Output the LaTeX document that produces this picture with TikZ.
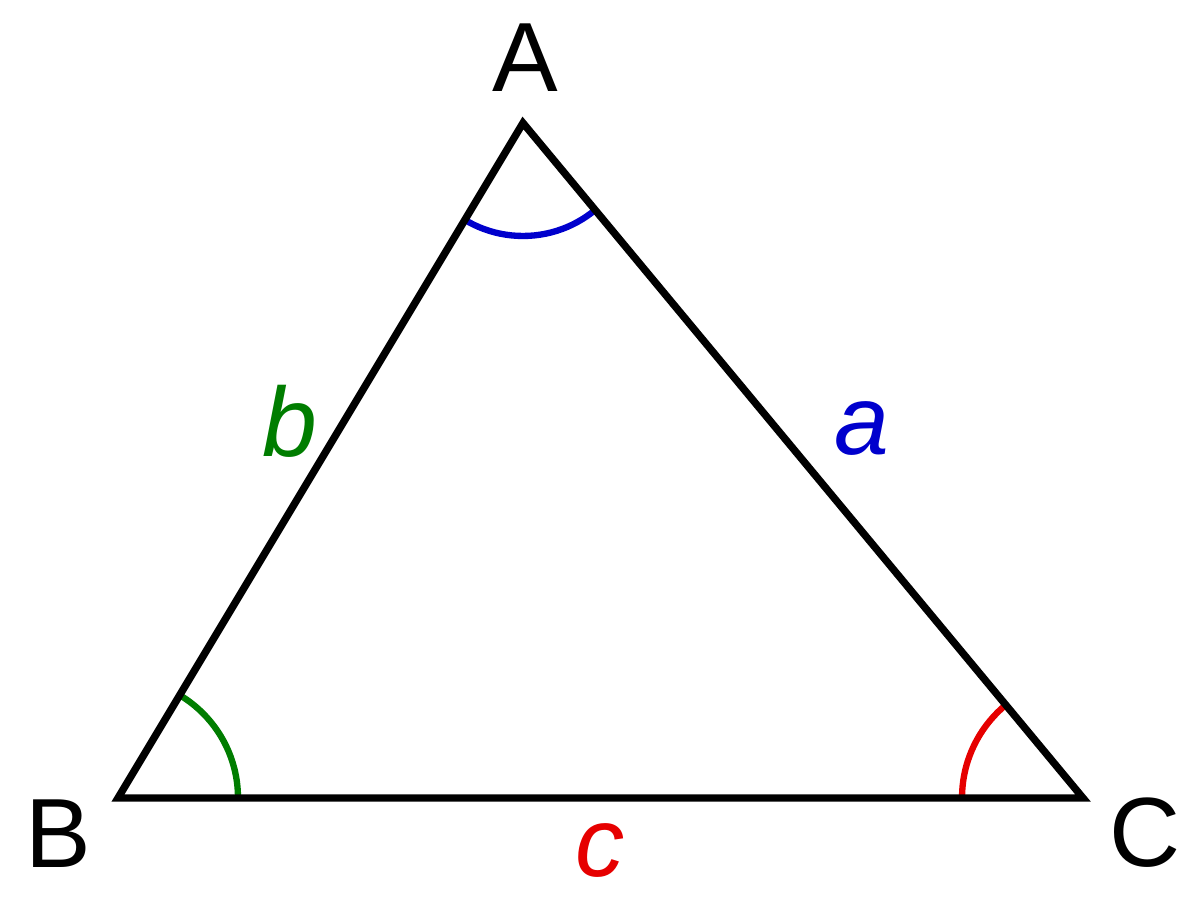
\documentclass[tikz,border=0pt]{standalone}
\usepackage{fontspec}
\setmainfont{Liberation Sans}
\definecolor{angblue}{RGB}{0,0,205}
\definecolor{anggreen}{RGB}{0,125,0}
\definecolor{angred}{RGB}{230,0,0}
\begin{document}
\begin{tikzpicture}[x=0.02cm,y=0.02cm,
        every node/.style={font=\fontsize{56}{60}\selectfont,inner sep=0pt,anchor=base},
        side/.style={line width=4.2pt,line join=miter},
        ang/.style={line width=3.6pt}]
        \useasboundingbox (0,0) rectangle (1200,896);
        \coordinate (A) at (523,773);
        \coordinate (B) at (118,98);
        \coordinate (C) at (1083,98);
        \begin{scope}
            \clip (A) -- (B) -- (C) -- cycle;
            \draw[ang,angblue]  (A) circle[radius=2.26cm];
            \draw[ang,anggreen] (B) circle[radius=2.4cm];
            \draw[ang,angred]   (C) circle[radius=2.42cm];
        \end{scope}
        \draw[side] (A) -- (B) -- (C) -- cycle;
        \node (lA) at (525,804) {A};
        \node (lB) at (58,29)   {B};
        \node (lC) at (1145,30) {C};
        \node[text=anggreen] (lb) at (290,439) {\itshape b};
        \node[text=angblue]  (la) at (862,441) {\itshape a};
        \node[text=angred]   (lc) at (600,20)  {\itshape c};
\end{tikzpicture}
\end{document}
